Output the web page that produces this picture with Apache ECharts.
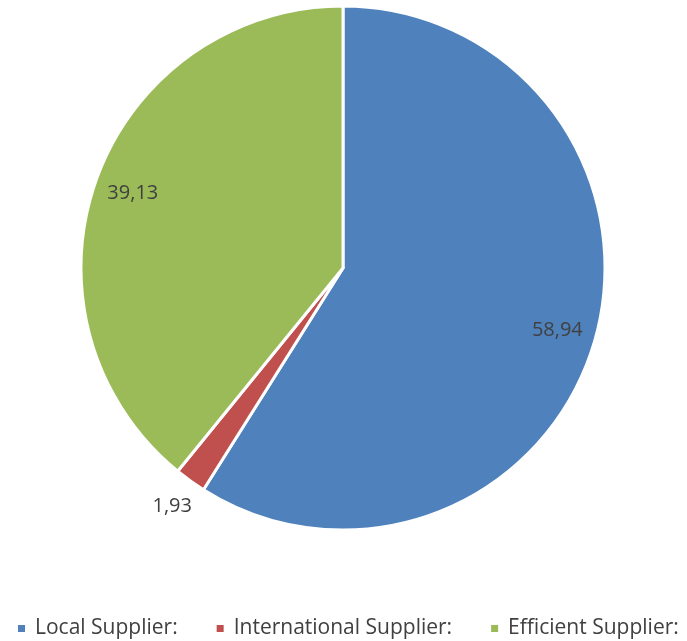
<!DOCTYPE html>
<html>
<head>
<meta charset="utf-8">
<script src="https://cdn.jsdelivr.net/npm/echarts@6/dist/echarts.min.js"></script>
<style>
  html, body { margin: 0; padding: 0; background: #fff; }
  #chart { width: 687px; height: 641px; }
</style>
</head>
<body>
<div id="chart"></div>
<script>
const names = ['Local Supplier:', 'International Supplier:', 'Efficient Supplier:']
const values = [58.94, 1.93, 39.13]
const colors = ['#4F81BD', '#C0504D', '#9BBB59']
const valueLabels = ['58,94', '1,93', '39,13']
// labels inside the slice for the big ones, outside for the small one
const labelInside = [true, false, true]

const center = [343, 268]
const R = 262
const font = '"Open Sans", sans-serif'

function labelSeries(radius, showFn) {
  return {
    type: 'pie',
    silent: true,
    center: center,
    radius: radius,
    startAngle: 90,
    clockwise: true,
    itemStyle: { color: 'rgba(0,0,0,0)', borderWidth: 0 },
    labelLine: { show: false },
    data: names.map((n, i) => ({
      name: n,
      value: values[i],
      label: {
        show: showFn(i),
        position: 'inside',
        formatter: valueLabels[i],
        color: '#404040',
        fontFamily: font,
        fontSize: 20
      }
    }))
  }
}

const chart = echarts.init(document.getElementById('chart'))
chart.setOption({
  animation: false,
  legend: {
    data: names,
    left: 11,
    top: 613,
    icon: 'path://M0,0h1v1h-1z',
    itemWidth: 17,
    itemHeight: 9,
    itemGap: 37,
    textStyle: {
      color: '#404040',
      fontFamily: font,
      fontSize: 21
    },
    selectedMode: false
  },
  series: [
    {
      type: 'pie',
      center: center,
      radius: [0, R],
      startAngle: 90,
      clockwise: true,
      label: { show: false },
      labelLine: { show: false },
      itemStyle: { borderColor: '#fff', borderWidth: 3 },
      emphasis: { disabled: true },
      data: names.map((n, i) => ({
        name: n,
        value: values[i],
        itemStyle: { color: colors[i] }
      }))
    },
    labelSeries([R * 0.68, R], i => labelInside[i]),
    labelSeries([R, R + 56], i => !labelInside[i])
  ]
})
</script>
</body>
</html>
